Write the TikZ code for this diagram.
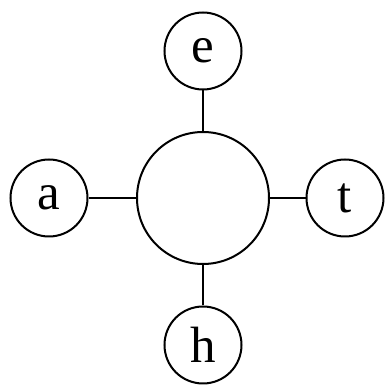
\documentclass[tikz,border=0pt]{standalone}
\usepackage{fontspec}
\setmainfont{Liberation Serif}
\begin{document}
\begin{tikzpicture}[x=1pt,y=-1pt,
  leaf/.style={circle,draw,line width=2pt,minimum size=77pt,inner sep=0pt,font=\fontsize{51}{51}\selectfont},
  hub/.style={circle,draw,line width=2pt,minimum size=132pt,inner sep=0pt},
  link/.style={line width=2pt}]
\useasboundingbox (0,0) rectangle (389,387);
\node[hub] (c) at (203,198) {};
\node[leaf] (e) at (203,51) {e};
\node[leaf] (a) at (49,198) {a};
\node[leaf] (t) at (345,198) {t};
\node[leaf] (h) at (203,345) {h};
\draw[link] (e) -- (c);
\draw[link] (a) -- (c);
\draw[link] (t) -- (c);
\draw[link] (h) -- (c);
\end{tikzpicture}
\end{document}
